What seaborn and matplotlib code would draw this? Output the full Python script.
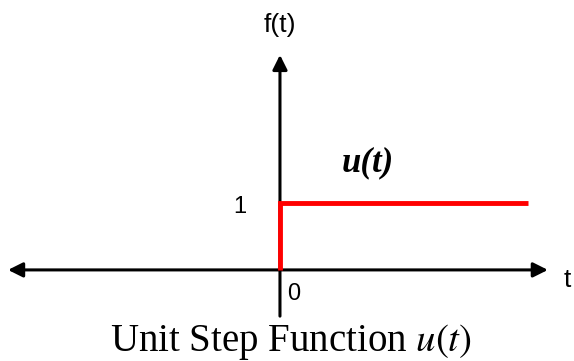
import numpy as np
import pandas as pd
import matplotlib
matplotlib.use("Agg")
from matplotlib import pyplot as plt
import seaborn as sns

# step function data (t, f)
step_t = [0.0, 0.0, 3.70]
step_f = [0.0, 1.0, 1.0]

# axis extents
t_axis = [-4.06, 4.0]
f_axis = [-0.69, 3.21]
title_text = "Unit Step Function $u(t)$"

sns.set_theme(style="white")
plt.rcParams['font.family'] = ['Liberation Sans', 'DejaVu Sans']
plt.rcParams['mathtext.fontset'] = 'stix'
plt.rcParams['text.color'] = 'black'

fig = plt.figure(figsize=(5.74, 3.61), dpi=100)
ax = fig.add_axes([0, 0, 1, 1])
ax.set_xlim(-4.18, 4.39)
ax.set_ylim(-1.36, 4.03)
ax.axis('off')

# axes with arrows
ax.annotate('', xy=(t_axis[1], 0), xytext=(t_axis[0], 0),
            arrowprops=dict(arrowstyle='<|-|>', color='black', lw=2.2,
                            mutation_scale=22, shrinkA=0, shrinkB=0))
ax.annotate('', xy=(0, f_axis[1]), xytext=(0, f_axis[0]),
            arrowprops=dict(arrowstyle='-|>', color='black', lw=2.2,
                            mutation_scale=22, shrinkA=0, shrinkB=0))

# the step (drawn on top of the axes)
df = pd.DataFrame({'t': step_t, 'f': step_f})
sns.lineplot(data=df, x='t', y='f', sort=False, estimator=None,
             color='#ff0000', lw=3.5, ax=ax, zorder=10)
ax.lines[-1].set_solid_joinstyle('miter')
ax.lines[-1].set_solid_capstyle('butt')

# labels
ax.text(0, 3.66, 'f(t)', ha='center', va='center', fontsize=19)
ax.text(4.29, -0.15, 't', ha='center', va='center', fontsize=19)
ax.text(-0.6, 0.94, '1', ha='center', va='center', fontsize=17)
ax.text(0.21, -0.36, '0', ha='center', va='center', fontsize=17)
ax.text(1.31, 1.6, 'u(t)', ha='center', va='center', fontsize=25,
        fontfamily='Liberation Serif', fontweight='bold', fontstyle='italic')
ax.text(0.16, -1.07, title_text, ha='center', va='center', fontsize=28,
        fontfamily='Liberation Serif')

plt.savefig('out.png', dpi=100)
plt.close()
